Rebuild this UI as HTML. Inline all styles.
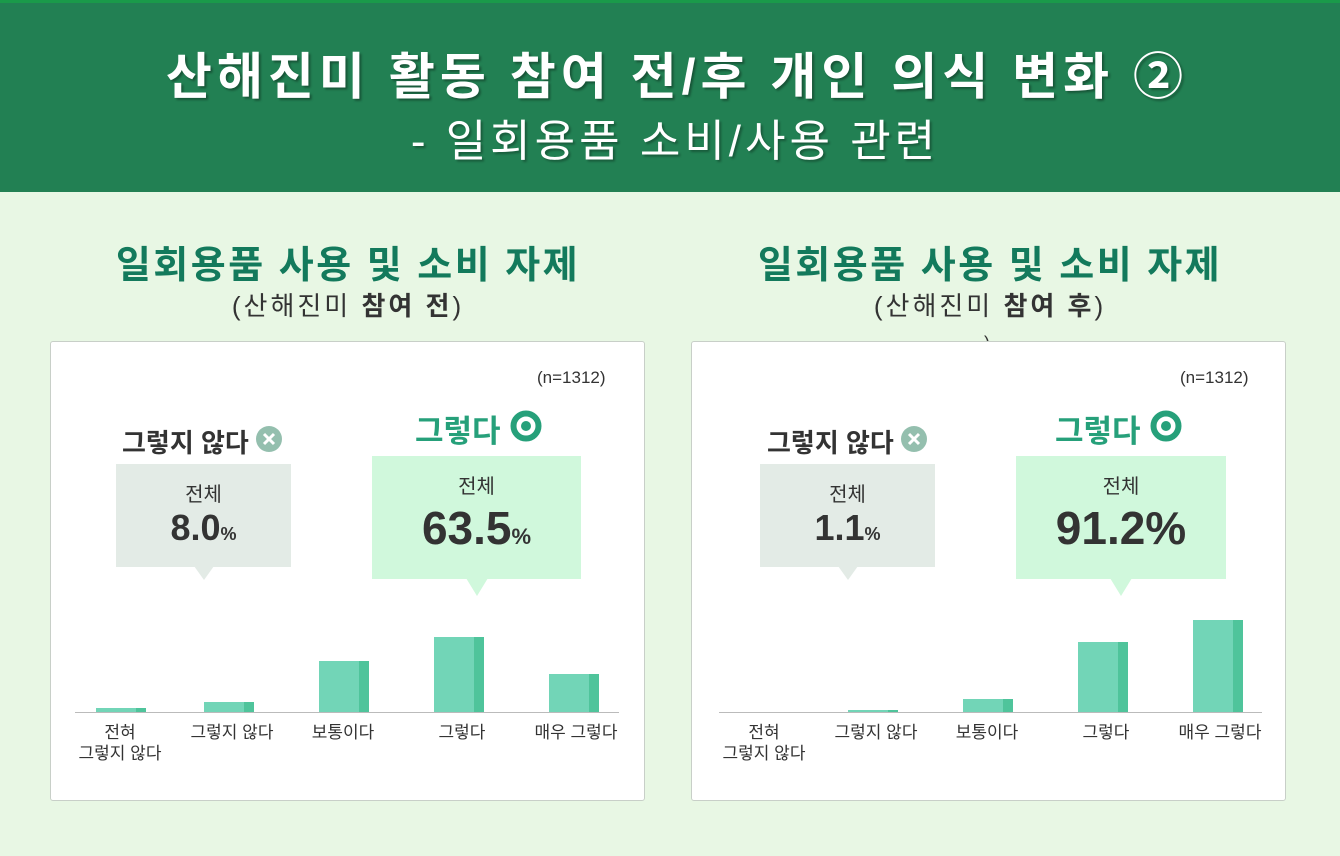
<!DOCTYPE html>
<html><head><meta charset="utf-8"><style>
*{margin:0;padding:0;box-sizing:border-box}
body{width:1340px;height:856px;background:#e8f7e4;position:relative;overflow:hidden;font-family:"Liberation Sans","Noto Sans CJK KR",sans-serif;color:#333}
.hdr{position:absolute;left:0;top:0;width:1340px;height:192px;background:#228053;border-top:3px solid #1a9a4a}
.t1{position:absolute;left:0;width:1340px;top:34px;text-align:center;color:#fff;font-size:50px;font-weight:bold;letter-spacing:5px;text-shadow:2px 2px 2px rgba(0,0,0,.35);padding-left:14px}
.t2{position:absolute;left:0;width:1340px;top:102px;text-align:center;color:#fff;font-size:44px;letter-spacing:4px;text-shadow:2px 2px 2px rgba(0,0,0,.3);padding-left:10px}
.st{position:absolute;width:600px;text-align:center;color:#137a5c;font-size:38px;letter-spacing:2.5px;font-weight:bold}
.st2{position:absolute;width:600px;text-align:center;font-size:26px;letter-spacing:3px;color:#333}
.panel{position:absolute;top:341px;width:595px;height:460px;background:#fff;border:1px solid #c8cfc8;border-radius:3px}
.abs{position:absolute}
.n{font-size:17px;color:#333}
.lbl{font-size:26px;font-weight:bold;color:#333}
.g{font-size:31px;font-weight:bold;color:#26a07a}
.box{position:absolute;text-align:center}
.box .a{font-size:20px;margin-top:14px}
.bar{position:absolute;background:#72d5b7;width:50px}
.bar::after{content:"";position:absolute;right:0;top:0;bottom:0;width:10px;background:#4fc49b}
.base{position:absolute;height:1px;background:#bbb}
.xl{position:absolute;width:130px;text-align:center;font-size:17px;line-height:21px;color:#333}
</style></head><body>
<div class="hdr">
<div class="t1">산해진미 활동 참여 전/후 개인 의식 변화 ②</div>
<div class="t2">- 일회용품 소비/사용 관련</div>
</div>

<div class="st" style="left:48px;top:234px">일회용품 사용 및 소비 자제</div>
<div class="st2" style="left:48px;top:286px">(산해진미 <b>참여 전</b>)</div>
<div class="st" style="left:690px;top:234px">일회용품 사용 및 소비 자제</div>
<div class="st2" style="left:690px;top:286px">(산해진미 <b>참여 후</b>)</div>
<div class="abs" style="left:984px;top:333px;font-size:18px">)</div>

<!-- left panel -->
<div class="panel" style="left:50px"></div>
<div class="abs n" style="left:537px;top:368px">(n=1312)</div>
<div class="abs lbl" style="left:122px;top:423px">그렇지 않다</div>
<svg class="abs" style="left:256px;top:426px" width="26" height="26"><circle cx="13" cy="13" r="13" fill="#94bfae"/><path d="M8 8L18 18M18 8L8 18" stroke="#fff" stroke-width="3"/></svg>
<div class="abs g" style="left:415px;top:406px">그렇다</div>
<svg class="abs" style="left:510px;top:410px" width="32" height="32"><circle cx="16" cy="16" r="12.5" fill="none" stroke="#26a07a" stroke-width="6"/><circle cx="16" cy="16" r="5" fill="#26a07a"/></svg>
<div class="box" style="left:116px;top:464px;width:175px;height:103px;background:#e3ebe6"><div class="a">전체</div><div style="font-size:36px;font-weight:bold;margin-top:0px">8.0<span style="font-size:18px">%</span></div></div>
<svg class="abs" style="left:194px;top:566px" width="20" height="15"><path d="M0 0H20L10 14Z" fill="#e3ebe6"/></svg>
<div class="box" style="left:372px;top:456px;width:209px;height:123px;background:#d0f8dc"><div class="a">전체</div><div style="font-size:46px;font-weight:bold;margin-top:2px">63.5<span style="font-size:22px">%</span></div></div>
<svg class="abs" style="left:466px;top:578px" width="22" height="18"><path d="M0 0H22L11 18Z" fill="#d0f8dc"/></svg>
<div class="bar" style="left:96px;top:708px;height:4px"></div>
<div class="bar" style="left:204px;top:702px;height:10px"></div>
<div class="bar" style="left:319px;top:661px;height:51px"></div>
<div class="bar" style="left:434px;top:637px;height:75px"></div>
<div class="bar" style="left:549px;top:674px;height:38px"></div>
<div class="base" style="left:75px;top:712px;width:544px"></div>
<div class="xl" style="left:55px;top:722px">전혀<br>그렇지 않다</div>
<div class="xl" style="left:167px;top:722px">그렇지 않다</div>
<div class="xl" style="left:278px;top:722px">보통이다</div>
<div class="xl" style="left:397px;top:722px">그렇다</div>
<div class="xl" style="left:511px;top:722px">매우 그렇다</div>

<!-- right panel -->
<div class="panel" style="left:691px"></div>
<div class="abs n" style="left:1180px;top:368px">(n=1312)</div>
<div class="abs lbl" style="left:767px;top:423px">그렇지 않다</div>
<svg class="abs" style="left:901px;top:426px" width="26" height="26"><circle cx="13" cy="13" r="13" fill="#94bfae"/><path d="M8 8L18 18M18 8L8 18" stroke="#fff" stroke-width="3"/></svg>
<div class="abs g" style="left:1055px;top:406px">그렇다</div>
<svg class="abs" style="left:1150px;top:410px" width="32" height="32"><circle cx="16" cy="16" r="12.5" fill="none" stroke="#26a07a" stroke-width="6"/><circle cx="16" cy="16" r="5" fill="#26a07a"/></svg>
<div class="box" style="left:760px;top:464px;width:175px;height:103px;background:#e3ebe6"><div class="a">전체</div><div style="font-size:36px;font-weight:bold;margin-top:0px">1.1<span style="font-size:18px">%</span></div></div>
<svg class="abs" style="left:838px;top:566px" width="20" height="15"><path d="M0 0H20L10 14Z" fill="#e3ebe6"/></svg>
<div class="box" style="left:1016px;top:456px;width:210px;height:123px;background:#d0f8dc"><div class="a">전체</div><div style="font-size:46px;font-weight:bold;margin-top:2px">91.2%</div></div>
<svg class="abs" style="left:1110px;top:578px" width="22" height="18"><path d="M0 0H22L11 18Z" fill="#d0f8dc"/></svg>
<div class="bar" style="left:848px;top:710px;height:2px"></div>
<div class="bar" style="left:963px;top:699px;height:13px"></div>
<div class="bar" style="left:1078px;top:642px;height:70px"></div>
<div class="bar" style="left:1193px;top:620px;height:92px"></div>
<div class="base" style="left:719px;top:712px;width:543px"></div>
<div class="xl" style="left:699px;top:722px">전혀<br>그렇지 않다</div>
<div class="xl" style="left:811px;top:722px">그렇지 않다</div>
<div class="xl" style="left:922px;top:722px">보통이다</div>
<div class="xl" style="left:1041px;top:722px">그렇다</div>
<div class="xl" style="left:1155px;top:722px">매우 그렇다</div>
</body></html>
